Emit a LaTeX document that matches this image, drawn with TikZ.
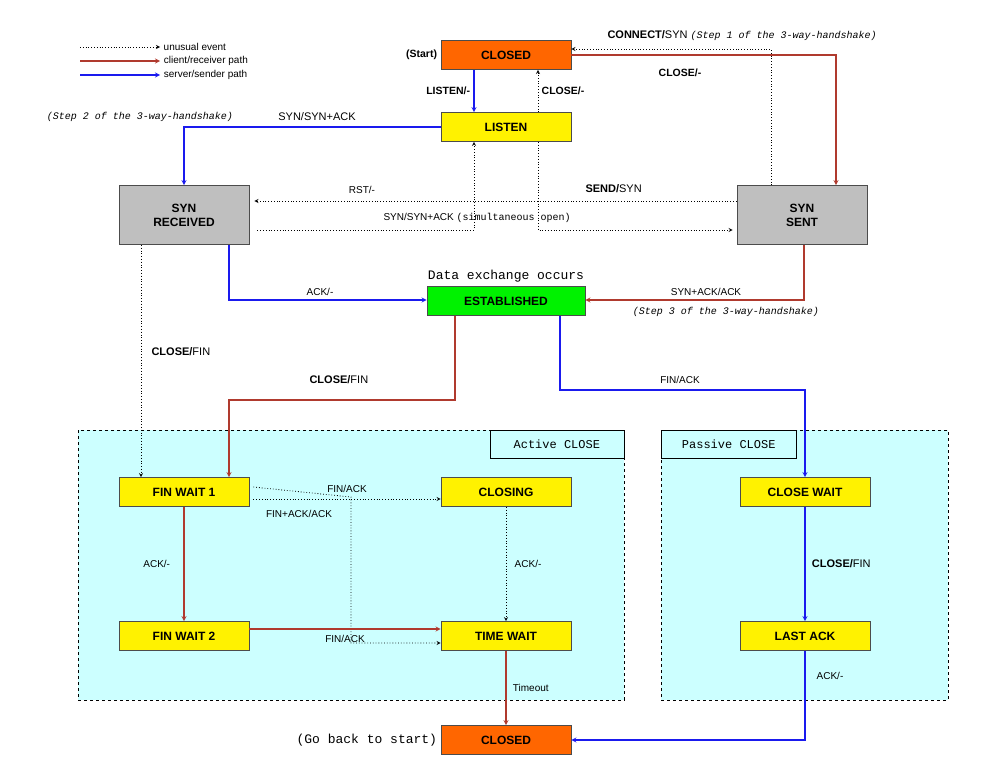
\documentclass[tikz,border=0pt]{standalone}
\usepackage{fontspec}
\setmainfont{Liberation Sans}
\setmonofont{Liberation Mono}
\definecolor{cpath}{HTML}{B03A2E}
\definecolor{spath}{HTML}{1A1AEE}
\definecolor{orangebox}{HTML}{FF6600}
\definecolor{areabg}{HTML}{CCFFFF}
\newcommand{\hsnote}{\fontsize{10}{12}\ttfamily\itshape}
\tikzset{
  state/.style={draw=black!70, thick, minimum width=130pt, minimum height=29pt, font=\fontsize{12}{14}\selectfont\bfseries, align=center},
  twoline/.style={state, minimum height=59pt},
  cli/.style={->, >=stealth, very thick, draw=cpath},
  srv/.style={->, >=stealth, very thick, draw=spath},
  odd/.style={->, >=stealth, thick, dotted},
  lbl/.style={font=\fontsize{10}{12}\selectfont},
  blbl/.style={font=\fontsize{10.5}{12}\selectfont\bfseries},
  note/.style={font=\hsnote},
  area/.style={draw, dashed, fill=areabg}
}
\begin{document}
\begin{tikzpicture}[x=1pt, y=-1pt]
\useasboundingbox (0,0) rectangle (1000,768);
% Close areas
\draw[area] (78,430) rectangle (624,700);
\draw[area] (661,430) rectangle (948,700);
\node[draw, anchor=north east, minimum width=134pt, minimum height=28pt, font=\fontsize{12}{14}\ttfamily] (activeLbl) at (624,430) {Active CLOSE};
\node[draw, anchor=north west, minimum width=135pt, minimum height=28pt, font=\fontsize{12}{14}\ttfamily] (passiveLbl) at (661,430) {Passive CLOSE};
% Legend
\coordinate (lg1) at (80,47);
\coordinate (lg2) at (80,61);
\coordinate (lg3) at (80,75);
\draw[odd] (lg1) -- ++(80,0) node[right, lbl] {unusual event};
\draw[cli] (lg2) -- ++(80,0) node[right, lbl] {client/receiver path};
\draw[srv] (lg3) -- ++(80,0) node[right, lbl] {server/sender path};
% States
\node[state, fill=orangebox] (closedTop) at (506,55) {CLOSED};
\node[state, fill=yellow] (listen) at (506,127) {LISTEN};
\node[twoline, fill=black!25] (synRcvd) at (184,215) {SYN\\RECEIVED};
\node[twoline, fill=black!25] (synSent) at (802,215) {SYN\\SENT};
\node[state, fill=green!95!black, minimum width=158pt] (estab) at (506,301) {ESTABLISHED};
\node[state, fill=yellow] (finWait1) at (184,492) {FIN WAIT 1};
\node[state, fill=yellow] (closing) at (506,492) {CLOSING};
\node[state, fill=yellow] (finWait2) at (184,636) {FIN WAIT 2};
\node[state, fill=yellow] (timeWait) at (506,636) {TIME WAIT};
\node[state, fill=yellow] (closeWait) at (805,492) {CLOSE WAIT};
\node[state, fill=yellow] (lastAck) at (805,636) {LAST ACK};
\node[state, fill=orangebox] (closedEnd) at (506,740) {CLOSED};
\node[blbl, left] at (closedTop.west) {(Start)};
\node[font=\fontsize{13}{15}\ttfamily, left] at (closedEnd.west) {(Go back to start)};
\node[font=\fontsize{13}{15}\ttfamily] at (506,276) {Data exchange occurs};
% Opening
\draw[cli] (closedTop.east) -| ([xshift=34pt]synSent.north);
\node[anchor=west] at (604,36) {\fontsize{11}{13}\selectfont\bfseries CONNECT/\mdseries SYN {\hsnote (Step 1 of the 3-way-handshake)}};
\draw[odd] ([xshift=-31pt]synSent.north) |- ([yshift=6pt]closedTop.east);
\node[blbl] at (680,73) {CLOSE/-};
\draw[srv] ([xshift=-32pt]closedTop.south) -- ([xshift=-32pt]listen.north) node[midway, left, blbl] {LISTEN/-};
\draw[odd] ([xshift=32pt]listen.north) -- ([xshift=32pt]closedTop.south) node[midway, right, blbl] {CLOSE/-};
\draw[srv] (listen.west) -| (synRcvd.north);
\node[font=\fontsize{11}{13}\selectfont] at (317,117) {SYN/SYN+ACK};
\node[note] at (140,117) {(Step 2 of the 3-way-handshake)};
\draw[odd] ([xshift=8pt, yshift=-15pt]synRcvd.east) -| ([xshift=-32pt]listen.south);
\node[lbl] at (362,190) {RST/-};
\draw[odd] ([xshift=32pt]listen.south) |- ([xshift=-4pt, yshift=-15pt]synSent.west);
\node[anchor=west] at (582,189) {\fontsize{11}{13}\selectfont\bfseries SEND/\mdseries SYN};
\draw[odd] ([yshift=14pt]synSent.west) -- ([xshift=5pt, yshift=14pt]synRcvd.east);
\node[anchor=west] at (380,218) {\fontsize{10}{12}\selectfont SYN/SYN+ACK {\ttfamily(simultaneous open)}};
\draw[srv] ([xshift=45pt]synRcvd.south) |- ([yshift=1pt]estab.west);
\node[lbl] at (320,292) {ACK/-};
\draw[cli] ([xshift=2pt]synSent.south) |- ([yshift=1pt]estab.east);
\node[lbl] at (706,292) {SYN+ACK/ACK};
\node[note] at (726,312) {(Step 3 of the 3-way-handshake)};
% Closing
\draw[odd] ([xshift=-43pt]synRcvd.south) -- ([xshift=-43pt]finWait1.north);
\node[anchor=west] at (148,352) {\fontsize{11}{13}\selectfont\bfseries CLOSE/\mdseries FIN};
\coordinate (estabLeft) at (455,400);
\draw[cli] ([xshift=-51pt]estab.south) |- (estabLeft) -| ([xshift=45pt]finWait1.north);
\node[anchor=west] at (306,380) {\fontsize{11}{13}\selectfont\bfseries CLOSE/\mdseries FIN};
\coordinate (estabRight) at (560,390);
\draw[srv] ([xshift=54pt]estab.south) |- (estabRight) -| (closeWait.north);
\node[lbl] at (680,380) {FIN/ACK};
\draw[odd] ([xshift=4pt, yshift=-7pt]finWait1.east) -- ([yshift=-7pt]closing.west) node[midway, above=3pt, lbl] {FIN/ACK};
\coordinate (finAckBend) at (351,497);
\draw[odd] ([xshift=4pt, yshift=5pt]finWait1.east) -- (finAckBend) |- ([yshift=-7pt]timeWait.west);
\node[lbl] at (299,514) {FIN+ACK/ACK};
\draw[odd] (closing.south) -- (timeWait.north) node[midway, right=5pt, lbl] {ACK/-};
\draw[cli] (finWait1.south) -- (finWait2.north) node[midway, left=10pt, lbl] {ACK/-};
\draw[cli] ([yshift=7pt]finWait2.east) -- ([yshift=7pt]timeWait.west) node[midway, below=2pt, lbl] {FIN/ACK};
\draw[srv] (closeWait.south) -- (lastAck.north) node[midway, right=3pt] {\fontsize{11}{13}\selectfont\bfseries CLOSE/\mdseries FIN};
\draw[cli] (timeWait.south) -- (closedEnd.north) node[midway, right=3pt, lbl] {Timeout};
\draw[srv] (lastAck.south) |- (closedEnd.east);
\node[lbl] at (830,676) {ACK/-};
\end{tikzpicture}
\end{document}
